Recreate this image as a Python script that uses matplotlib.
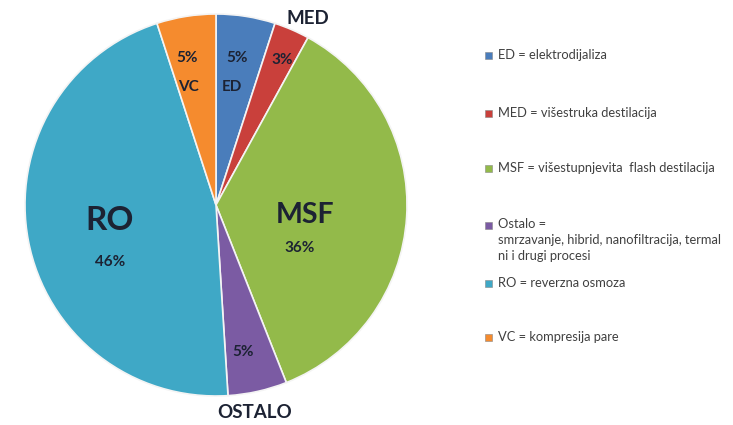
import matplotlib
matplotlib.use("Agg")
import matplotlib.pyplot as plt
import numpy as np

categories = ["ED", "MED", "MSF", "Ostalo", "RO", "VC"]
values = [5, 3, 36, 5, 46, 5]
colors = ["#4A7DBB", "#C9403B", "#93BA4A", "#7B5BA3", "#3FA8C6", "#F58B2E"]
legend_labels = [
    "ED = elektrodijaliza",
    "MED = višestruka destilacija",
    "MSF = višestupnjevita  flash destilacija",
    "Ostalo =\nsmrzavanje, hibrid, nanofiltracija, termal\nni i drugi procesi",
    "RO = reverzna osmoza",
    "VC = kompresija pare",
]
pct_labels = ["5%", "3%", "36%", "5%", "46%", "5%"]
name_labels = ["ED", "MED", "MSF", "OSTALO", "RO", "VC"]

plt.rcParams['font.family'] = ['Lato', 'DejaVu Sans']
W, H = 733, 425
fig = plt.figure(figsize=(W / 100, H / 100), dpi=100)
fig.patch.set_facecolor("white")

cx, cy, R = 216, 205, 191
ax = fig.add_axes([(cx - R) / W, (H - cy - R) / H, 2 * R / W, 2 * R / H])
wedges, _ = ax.pie(values, colors=colors, startangle=90, counterclock=False,
                   radius=1.0, wedgeprops=dict(edgecolor="#f4f4f4", linewidth=1.2))
ax.set_xlim(-1, 1)
ax.set_ylim(-1, 1)
ax.set_aspect("equal")
ax.axis("off")

def px(x, y):
    return ((x - cx) / R, (cy - y) / R)

txt = "#1c2233"
# percentage labels
pct_pos = [(237, 58), (282, 60), (300, 248), (243, 352), (110, 262), (187, 58)]
for lab, (x, y) in zip(pct_labels, pct_pos):
    ax.text(*px(x, y), lab, ha="center", va="center", fontsize=11,
            fontweight="bold", color=txt)
# category labels
name_pos = [(232, 87), (308, 18), (305, 215), (255, 412), (110, 220), (188, 87)]
name_sizes = [11, 13.5, 20.5, 13.5, 24, 11]
for lab, (x, y), s in zip(name_labels, name_pos, name_sizes):
    ax.text(*px(x, y), lab, ha="center", va="center", fontsize=s,
            fontweight="bold", color=txt, clip_on=False)

# legend
leg_y = [55, 113, 168, 225, 283, 337]
for col, lab, y in zip(colors, legend_labels, leg_y):
    fig.patches.append(plt.Rectangle((485 / W, (H - y - 3.5) / H), 7 / W, 7 / H,
                                     transform=fig.transFigure, facecolor=col,
                                     edgecolor="#888888", linewidth=0.4))
    fig.text(498 / W, (H - y) / H, lab, ha="left", va="top" if "\n" in lab else "center",
             fontsize=9.3, color="#404040", linespacing=1.4)

fig.texts[-3].set_position((498 / W, (H - 225 + 7) / H))
fig.savefig("out.png", dpi=100, facecolor="white")
